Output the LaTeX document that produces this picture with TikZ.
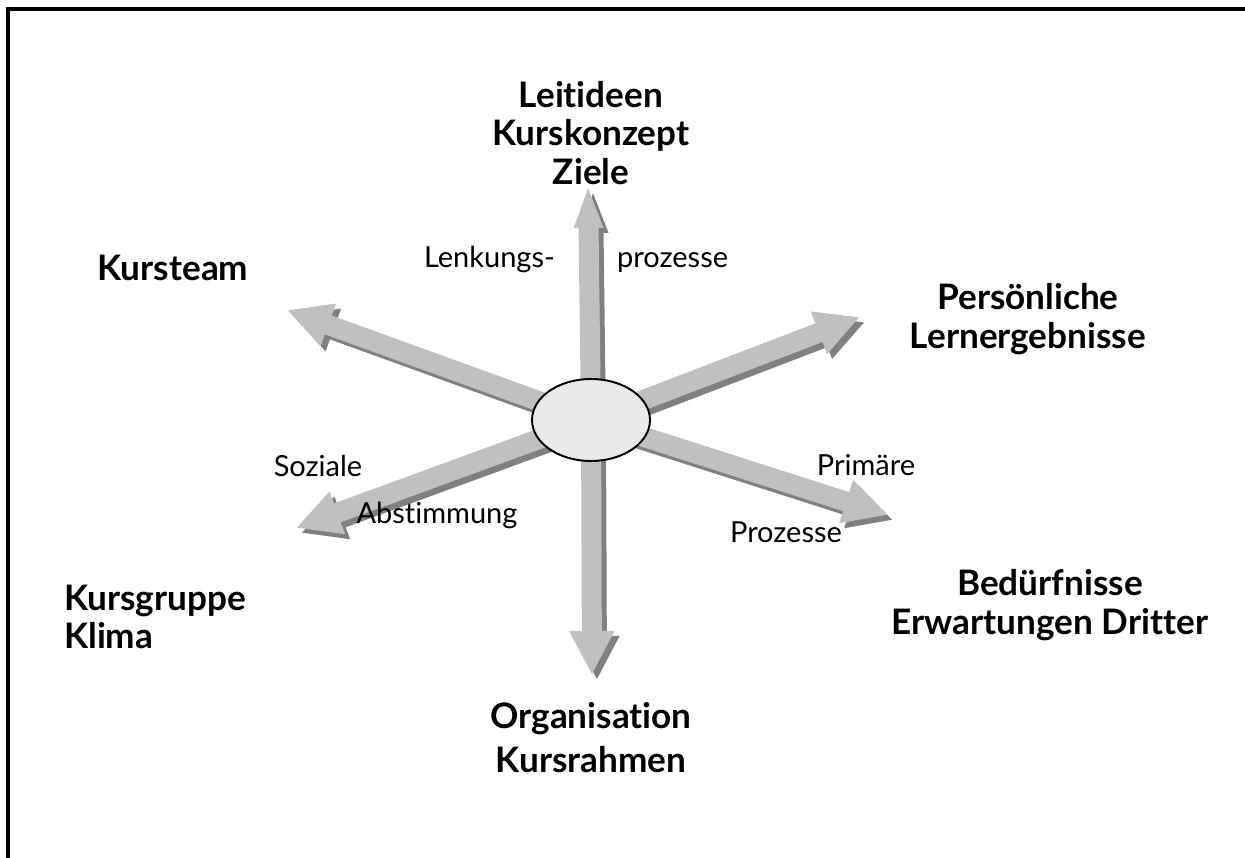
\documentclass[tikz,border=0pt]{standalone}
\usepackage{fontspec}
\setmainfont{Lato}[Ligatures=NoCommon]
\usetikzlibrary{arrows.meta,shapes.geometric}

\tikzset{
  spoke/.style={draw=spokegray,line width=0.4cm,-{Triangle[length=0.88cm,width=0.84cm]}},
  spokeshadow/.style={spoke,draw=shadowgray,transform canvas={xshift=0.1cm,yshift=-0.1cm}},
  head/.style={font=\fontsize{20}{22}\selectfont\bfseries,align=center},
  side/.style={font=\fontsize{16.5}{20}\selectfont}
}
\definecolor{spokegray}{RGB}{192,192,192}
\definecolor{shadowgray}{RGB}{128,128,128}
\definecolor{hubgray}{RGB}{234,234,234}

\begin{document}
\begin{tikzpicture}[x=0.02cm,y=-0.02cm]
    \useasboundingbox (0,0) rectangle (1245,858);
    % --- Frame ---
    \draw[line width=2.2pt] (8,858) -- (8,9) -- (1245,9);

    % --- Spokes ---
    \coordinate (hubc) at (591,420);
    \coordinate (tipup) at (588,185);
    \coordinate (tipdown) at (592,675);
    \coordinate (tipur) at (860,317);
    \coordinate (tipdr) at (888,515);
    \coordinate (tipul) at (287,310);
    \coordinate (tipdl) at (296,528);
    \foreach \t in {tipdown,tipur,tipdr,tipul,tipdl}
        \draw[spokeshadow] (hubc) -- (\t);
    \draw[spokeshadow,-{Triangle[length=0.86cm,width=0.52cm]}] (hubc) -- (tipup);
    \foreach \t in {tipdown,tipur,tipdr,tipul,tipdl}
        \draw[spoke] (hubc) -- (\t);
    \draw[spoke,-{Triangle[length=0.86cm,width=0.52cm]}] (hubc) -- (tipup);

    % --- Hub ---
    \node[ellipse,draw,line width=1.1pt,fill=hubgray,minimum width=2.36cm,minimum height=1.64cm] (hub) at (hubc) {};

    % --- Poles ---
    \node[head] (ziele) at (591,133) {Leitideen\\Kurskonzept\\Ziele};
    \node[head] (team) at (173,268) {Kursteam};
    \node[head] (lernen) at (1028,319) {Persönliche\\Lernergebnisse};
    \node[head] (dritte) at (1050,605) {Bedürfnisse\\Erwartungen Dritter};
    \node[head,align=left,anchor=west] (gruppe) at (58,617) {Kursgruppe\\Klima};
    \node[head,font=\fontsize{20}{25}\selectfont\bfseries] (rahmen) at (591,738) {Organisation\\Kursrahmen};

    % --- Process labels ---
    \node[side,anchor=base east] (lenk) at (561,268) {Lenkungs-};
    \node[side,anchor=base west] (proz) at (611,268) {prozesse};
    \node[side] (sozial) at (318,466) {Soziale};
    \node[side] (abst) at (437,515) {Abstimmung};
    \node[side] (prim) at (866,465) {Primäre};
    \node[side] (prozb) at (786,532) {Prozesse};
\end{tikzpicture}
\end{document}
